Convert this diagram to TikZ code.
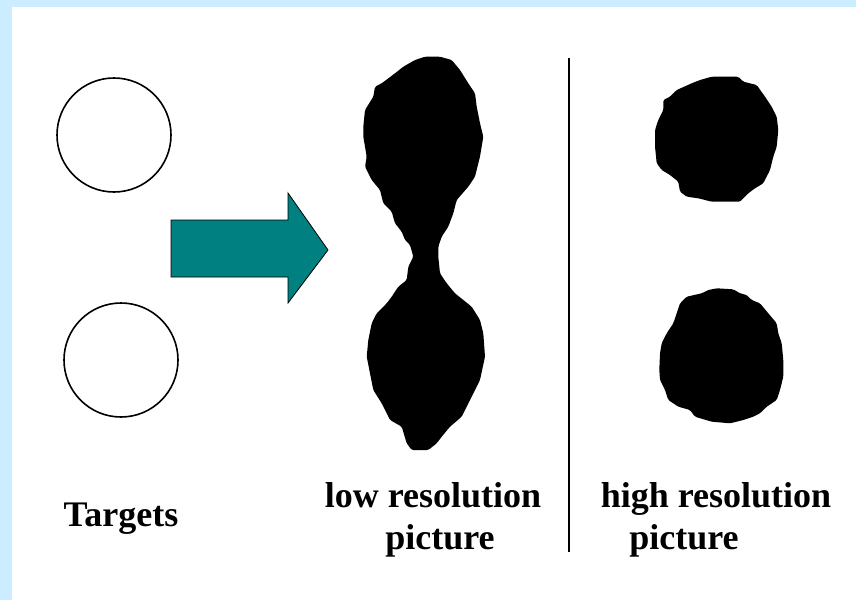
\documentclass[tikz,border=0pt]{standalone}
\usepackage{fontspec}
\setmainfont{Liberation Serif}
\definecolor{framebg}{RGB}{204,236,255}
\definecolor{teal}{RGB}{0,128,128}
\begin{document}
\begin{tikzpicture}[x=1pt,y=-1pt,
  label/.style={anchor=base,inner sep=0pt,font=\fontsize{36}{42}\selectfont\bfseries},
  target/.style={draw=black,line width=1.6pt},
  blob/.style={fill=black,rounded corners=1.5pt},
  bigarrow/.style={fill=teal,draw=black,line width=0.8pt,line join=miter}]
\useasboundingbox (0,0) rectangle (856,600);
% page background with the blue frame on the left and top
\fill[framebg] (0,0) rectangle (856,600);
\fill[white] (12,7) rectangle (856,600);

% the two targets
\draw[target] (114,135) circle[radius=57];
\draw[target] (121,360) circle[radius=57];

% block arrow
\draw[bigarrow] (171,220) -- (288,220) -- (288,193) -- (328,250) -- (288,303)
  -- (288,277) -- (171,277) -- cycle;

% low resolution image: the two spots merge into one
\fill[blob] (425,56.7) -- (415,60) -- (403.3,66.7) -- (395,73.3) -- (381.7,83.3)
  -- (375,86.7) -- (373.3,96.7) -- (365,110) -- (363.3,126.7) -- (363.3,136.7)
  -- (366.7,156.7) -- (365,166.7) -- (371.7,180) -- (380,190) -- (383.3,203.3)
  -- (391.7,211.7) -- (395,223.3) -- (401.7,231.7) -- (405,240) -- (410,245)
  -- (413.3,256.7) -- (408.3,266.7) -- (406.7,280) -- (398.3,286.7) -- (391.7,296.7)
  -- (386.7,303.3) -- (376.7,313.3) -- (371.7,323.3) -- (368.3,340) -- (366.7,356.7)
  -- (370,373.3) -- (373.3,390) -- (381.7,403.3) -- (390,420) -- (401.7,426.7)
  -- (406.7,443.3) -- (411.7,450) -- (428.3,450) -- (436.7,443.3) -- (441.7,436.7)
  -- (450,426.7) -- (461.7,416.7) -- (470,400) -- (480,380) -- (485,356.7)
  -- (483.3,333.3) -- (480,320) -- (471.7,306.7) -- (455,293.3) -- (446.7,283.3)
  -- (440,273.3) -- (438.3,256.7) -- (438.3,246.7) -- (441.7,236.7) -- (448.3,226.7)
  -- (453.3,213.3) -- (456.7,200) -- (468.3,186.7) -- (475,176.7) -- (480,156.7)
  -- (483.3,136.7) -- (480,123.3) -- (476.7,106.7) -- (475,93.3) -- (468.3,83.3)
  -- (460,70) -- (451.7,60) -- (440,56.7) -- cycle;

% separator
\coordinate (septop) at (569,58);
\coordinate (sepbot) at (569,552);
\draw[line width=1.4pt] (septop) -- (sepbot);

% high resolution image: two separate spots
\fill[blob] (711.7,76.7) -- (738.3,76.7) -- (743.3,81.7) -- (756.7,85) -- (765,96.7)
  -- (771.7,106.7) -- (776.7,116.7) -- (778.3,130) -- (776.7,146.7) -- (773.3,156.7)
  -- (770,170) -- (763.3,183.3) -- (755,188.3) -- (748.3,193.3) -- (740,201.7)
  -- (711.7,201.7) -- (698.3,198.3) -- (686.7,196.7) -- (680,191.7) -- (678.3,181.7)
  -- (670,175) -- (661.7,170) -- (656.7,163.3) -- (655,146.7) -- (655,130)
  -- (658.3,120) -- (663.3,110) -- (663.3,100) -- (670,96.7) -- (676.7,90)
  -- (691.7,83.3) -- (700,80) -- cycle;
\fill[blob] (716.7,288.3) -- (733.3,289.3) -- (740,293.3) -- (746.7,295) -- (751.7,300)
  -- (760,303.3) -- (768.3,313.3) -- (776.7,323.3) -- (778.3,333.3) -- (781.7,343.3)
  -- (783.3,360) -- (783.3,376.7) -- (780,390) -- (776.7,400) -- (766.7,406.7)
  -- (760,413.3) -- (753.3,416.7) -- (743.3,420) -- (730,423.3) -- (711.7,421.7)
  -- (695,416.7) -- (690,410) -- (678.3,406.7) -- (668.3,400) -- (665,390)
  -- (660,380) -- (659.3,370) -- (660,353.3) -- (661.7,343.3) -- (666.7,333.3)
  -- (673.3,323.3) -- (676.7,313.3) -- (680,303.3) -- (686.7,296.7) -- (701.7,293.3)
  -- (708.3,290) -- cycle;

% captions
\node[label] (targets) at (121,526) {Targets};
\node[label] (lowres) at (433,507) {low resolution};
\node[label] (lowpic) at (440,549) {picture};
\node[label] (highres) at (716,507) {high resolution};
\node[label] (highpic) at (684,549) {picture};
\end{tikzpicture}
\end{document}
